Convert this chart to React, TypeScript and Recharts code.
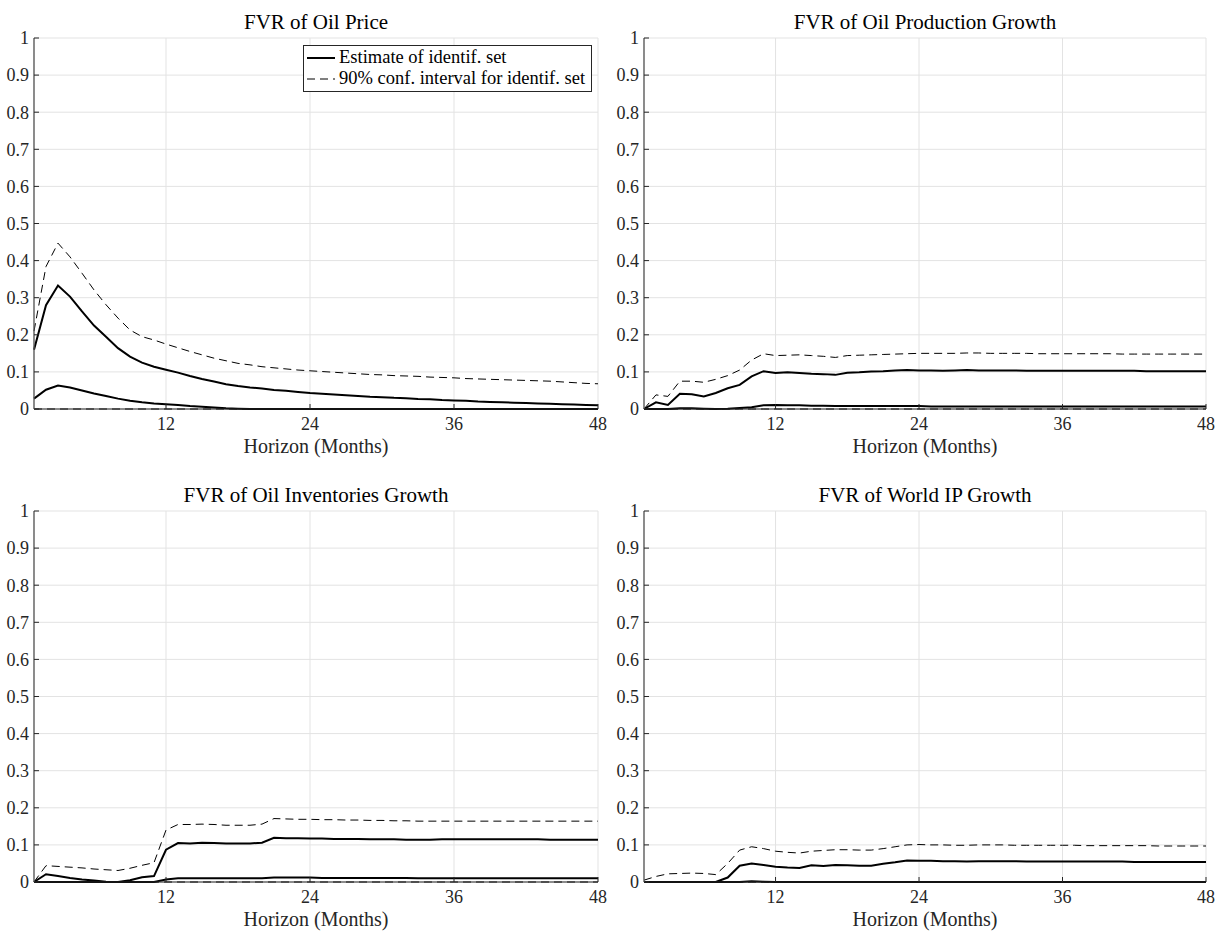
import React from "react";
import { LineChart, Line, XAxis, YAxis, CartesianGrid } from "recharts";

// forecast horizon, months
const horizons = [
  1, 2, 3, 4, 5, 6, 7, 8, 9, 10, 11, 12, 13, 14, 15, 16, 17, 18, 19, 20, 21, 22, 23, 24,
  25, 26, 27, 28, 29, 30, 31, 32, 33, 34, 35, 36, 37, 38, 39, 40, 41, 42, 43, 44, 45, 46, 47, 48,
];
const xTicks = [12, 24, 36, 48];
const yTicks = [0, 0.1, 0.2, 0.3, 0.4, 0.5, 0.6, 0.7, 0.8, 0.9, 1];

// FVR of Oil Price
const priceEstUpper = [
  0.160, 0.280, 0.333, 0.303, 0.263, 0.225, 0.195, 0.164, 0.141, 0.125, 0.114, 0.106,
  0.098, 0.089, 0.081, 0.074, 0.067, 0.062, 0.058, 0.055, 0.051, 0.049, 0.046, 0.043,
  0.041, 0.039, 0.037, 0.035, 0.033, 0.032, 0.030, 0.029, 0.027, 0.026, 0.024, 0.023,
  0.022, 0.020, 0.019, 0.018, 0.017, 0.016, 0.015, 0.014, 0.013, 0.012, 0.011, 0.010,
];
const priceEstLower = [
  0.028, 0.052, 0.063, 0.058, 0.050, 0.042, 0.035, 0.028, 0.022, 0.018, 0.015, 0.013,
  0.011, 0.008, 0.006, 0.004, 0.002, 0.001, 0, 0, 0, 0, 0, 0,
  0, 0, 0, 0, 0, 0, 0, 0, 0, 0, 0, 0,
  0, 0, 0, 0, 0, 0, 0, 0, 0, 0, 0, 0,
];
const priceCiUpper = [
  0.210, 0.384, 0.447, 0.410, 0.366, 0.321, 0.281, 0.245, 0.213, 0.195, 0.186, 0.175,
  0.165, 0.155, 0.146, 0.137, 0.130, 0.123, 0.119, 0.114, 0.111, 0.108, 0.105, 0.103,
  0.101, 0.099, 0.097, 0.095, 0.093, 0.092, 0.090, 0.089, 0.088, 0.086, 0.085, 0.084,
  0.082, 0.081, 0.080, 0.079, 0.078, 0.077, 0.076, 0.075, 0.073, 0.071, 0.069, 0.068,
];
const priceCiLower = [
  0, 0, 0, 0, 0, 0, 0, 0, 0, 0, 0, 0, 0, 0, 0, 0, 0, 0, 0, 0, 0, 0, 0, 0,
  0, 0, 0, 0, 0, 0, 0, 0, 0, 0, 0, 0, 0, 0, 0, 0, 0, 0, 0, 0, 0, 0, 0, 0,
];

// FVR of Oil Production Growth
const prodEstUpper = [
  0, 0.018, 0.011, 0.041, 0.040, 0.034, 0.043, 0.056, 0.065, 0.088, 0.102, 0.097,
  0.099, 0.097, 0.095, 0.094, 0.092, 0.098, 0.099, 0.101, 0.102, 0.104, 0.105, 0.104,
  0.104, 0.103, 0.104, 0.105, 0.104, 0.104, 0.104, 0.104, 0.103, 0.103, 0.103, 0.103,
  0.103, 0.103, 0.103, 0.103, 0.103, 0.103, 0.102, 0.102, 0.102, 0.102, 0.102, 0.102,
];
const prodEstLower = [
  0, 0, 0, 0.002, 0.002, 0.001, 0, 0.001, 0.003, 0.005, 0.010, 0.011,
  0.010, 0.010, 0.009, 0.009, 0.008, 0.008, 0.008, 0.008, 0.008, 0.008, 0.008, 0.008,
  0.007, 0.007, 0.007, 0.007, 0.007, 0.007, 0.007, 0.007, 0.007, 0.007, 0.007, 0.007,
  0.007, 0.007, 0.007, 0.007, 0.007, 0.007, 0.007, 0.007, 0.007, 0.007, 0.007, 0.007,
];
const prodCiUpper = [
  0, 0.038, 0.034, 0.075, 0.075, 0.072, 0.080, 0.090, 0.105, 0.132, 0.149, 0.144,
  0.145, 0.146, 0.144, 0.142, 0.139, 0.144, 0.145, 0.146, 0.147, 0.148, 0.149, 0.150,
  0.150, 0.150, 0.150, 0.151, 0.151, 0.150, 0.150, 0.150, 0.150, 0.149, 0.149, 0.149,
  0.149, 0.149, 0.149, 0.149, 0.148, 0.148, 0.148, 0.148, 0.148, 0.148, 0.148, 0.148,
];
const prodCiLower = [
  0, 0, 0, 0, 0, 0, 0, 0, 0, 0, 0, 0, 0, 0, 0, 0, 0, 0, 0, 0, 0, 0, 0, 0,
  0, 0, 0, 0, 0, 0, 0, 0, 0, 0, 0, 0, 0, 0, 0, 0, 0, 0, 0, 0, 0, 0, 0, 0,
];

// FVR of Oil Inventories Growth
const invEstUpper = [
  0, 0.021, 0.016, 0.011, 0.007, 0.004, 0.001, 0, 0.005, 0.013, 0.016, 0.087,
  0.105, 0.104, 0.106, 0.105, 0.104, 0.104, 0.104, 0.106, 0.119, 0.118, 0.118, 0.117,
  0.117, 0.116, 0.116, 0.116, 0.115, 0.115, 0.115, 0.114, 0.114, 0.114, 0.115, 0.115,
  0.115, 0.115, 0.115, 0.115, 0.115, 0.115, 0.115, 0.114, 0.114, 0.114, 0.114, 0.114,
];
const invEstLower = [
  0, 0, 0, 0, 0, 0, 0, 0, 0, 0, 0, 0.007,
  0.010, 0.010, 0.010, 0.010, 0.010, 0.010, 0.010, 0.010, 0.012, 0.012, 0.012, 0.012,
  0.011, 0.011, 0.011, 0.011, 0.011, 0.011, 0.011, 0.011, 0.010, 0.010, 0.010, 0.010,
  0.010, 0.010, 0.010, 0.010, 0.010, 0.010, 0.010, 0.010, 0.010, 0.010, 0.010, 0.010,
];
const invCiUpper = [
  0, 0.044, 0.042, 0.040, 0.038, 0.035, 0.033, 0.031, 0.037, 0.045, 0.052, 0.140,
  0.155, 0.155, 0.156, 0.155, 0.153, 0.153, 0.153, 0.156, 0.171, 0.170, 0.169, 0.169,
  0.168, 0.168, 0.167, 0.167, 0.166, 0.166, 0.165, 0.165, 0.164, 0.164, 0.164, 0.164,
  0.164, 0.164, 0.164, 0.164, 0.164, 0.164, 0.164, 0.164, 0.164, 0.164, 0.164, 0.164,
];
const invCiLower = [
  0, 0, 0, 0, 0, 0, 0, 0, 0, 0, 0, 0, 0, 0, 0, 0, 0, 0, 0, 0, 0, 0, 0, 0,
  0, 0, 0, 0, 0, 0, 0, 0, 0, 0, 0, 0, 0, 0, 0, 0, 0, 0, 0, 0, 0, 0, 0, 0,
];

// FVR of World IP Growth
const ipEstUpper = [
  0, 0, 0, 0, 0, 0, 0, 0.012, 0.044, 0.050, 0.046, 0.041,
  0.039, 0.038, 0.045, 0.043, 0.046, 0.045, 0.044, 0.044, 0.049, 0.053, 0.058, 0.057,
  0.057, 0.056, 0.056, 0.055, 0.056, 0.056, 0.056, 0.056, 0.055, 0.055, 0.055, 0.055,
  0.055, 0.055, 0.055, 0.055, 0.055, 0.054, 0.054, 0.054, 0.054, 0.054, 0.054, 0.054,
];
const ipEstLower = [
  0, 0, 0, 0, 0, 0, 0, 0, 0, 0.002, 0.001, 0,
  0, 0, 0, 0, 0, 0, 0, 0, 0, 0, 0, 0,
  0, 0, 0, 0, 0, 0, 0, 0, 0, 0, 0, 0,
  0, 0, 0, 0, 0, 0, 0, 0, 0, 0, 0, 0,
];
const ipCiUpper = [
  0.005, 0.015, 0.022, 0.023, 0.024, 0.023, 0.020, 0.050, 0.086, 0.095, 0.090, 0.083,
  0.080, 0.078, 0.083, 0.085, 0.087, 0.087, 0.086, 0.086, 0.090, 0.095, 0.100, 0.101,
  0.100, 0.100, 0.099, 0.099, 0.100, 0.100, 0.100, 0.099, 0.099, 0.099, 0.099, 0.099,
  0.099, 0.098, 0.098, 0.098, 0.098, 0.098, 0.098, 0.097, 0.097, 0.097, 0.097, 0.097,
];
const ipCiLower = [
  0, 0, 0, 0, 0, 0, 0, 0, 0, 0, 0, 0, 0, 0, 0, 0, 0, 0, 0, 0, 0, 0, 0, 0,
  0, 0, 0, 0, 0, 0, 0, 0, 0, 0, 0, 0, 0, 0, 0, 0, 0, 0, 0, 0, 0, 0, 0, 0,
];

const FONT = '"Liberation Serif", "Times New Roman", serif';
const INK = "#262626";
const PANEL_H = 460;
const TOP_M = 38;
const Y_W = 34;

interface PanelProps {
  title: string;
  left: number;
  top: number;
  width: number;
  estUpper: number[];
  estLower: number[];
  ciUpper: number[];
  ciLower: number[];
  legend?: boolean;
}

function LegendBox() {
  const row = (dashed: boolean, text: string) => (
    <div style={{ display: "flex", alignItems: "center", height: 21 }}>
      <svg width={34} height={10} style={{ flex: "none" }}>
        <line
          x1={3}
          x2={31}
          y1={5}
          y2={5}
          stroke="#000"
          strokeWidth={dashed ? 1 : 2}
          strokeDasharray={dashed ? "8 5" : undefined}
        />
      </svg>
      <span style={{ marginLeft: 1, whiteSpace: "nowrap" }}>{text}</span>
    </div>
  );
  return (
    <div
      style={{
        position: "absolute",
        left: 303,
        top: 45,
        width: 287,
        height: 44,
        border: `1px solid ${INK}`,
        background: "#fff",
        fontFamily: FONT,
        fontSize: 18.5,
        color: "#000",
        padding: "1px 0 0 0",
        boxSizing: "content-box",
      }}
    >
      {row(false, "Estimate of identif. set")}
      {row(true, "90% conf. interval for identif. set")}
    </div>
  );
}

function Panel({ title, left, top, width, estUpper, estLower, ciUpper, ciLower, legend }: PanelProps) {
  const data = horizons.map((h, i) => ({
    h,
    estUpper: estUpper[i],
    estLower: estLower[i],
    ciUpper: ciUpper[i],
    ciLower: ciLower[i],
  }));
  const plotW = width - Y_W - 10;
  return (
    <div style={{ position: "absolute", left, top, width, height: PANEL_H }}>
      <div
        style={{
          position: "absolute",
          left: Y_W,
          width: plotW,
          top: 10,
          lineHeight: "24px",
          textAlign: "center",
          fontFamily: FONT,
          fontSize: 21,
          color: "#000",
        }}
      >
        {title}
      </div>
      <LineChart width={width} height={PANEL_H} data={data} margin={{ top: TOP_M, right: 10, left: 0, bottom: 0 }}>
        <CartesianGrid stroke="#e3e3e3" strokeWidth={1} />
        <XAxis
          dataKey="h"
          type="number"
          domain={[1, 48]}
          ticks={xTicks}
          height={PANEL_H - TOP_M - 371}
          tickSize={-5}
          tickMargin={13}
          axisLine={{ stroke: INK, strokeWidth: 1 }}
          tickLine={{ stroke: INK }}
          tick={{ fill: INK, fontSize: 18, fontFamily: FONT }}
          label={{ value: "Horizon (Months)", position: "insideBottom", offset: 7, fill: INK, fontSize: 20, fontFamily: FONT }}
        />
        <YAxis
          type="number"
          domain={[0, 1]}
          ticks={yTicks}
          width={Y_W}
          tickSize={-5}
          tickMargin={10}
          interval={0}
          axisLine={{ stroke: "#555", strokeWidth: 1.3 }}
          tickLine={{ stroke: INK }}
          tick={{ fill: INK, fontSize: 18, fontFamily: FONT }}
          tickFormatter={(v: number) => String(v)}
        />
        <Line dataKey="ciLower" type="linear" stroke="#000" strokeWidth={1} strokeDasharray="8 5" dot={false} activeDot={false} isAnimationActive={false} />
        <Line dataKey="ciUpper" type="linear" stroke="#000" strokeWidth={1} strokeDasharray="8 5" dot={false} activeDot={false} isAnimationActive={false} />
        <Line dataKey="estLower" type="linear" stroke="#000" strokeWidth={2} dot={false} activeDot={false} isAnimationActive={false} />
        <Line dataKey="estUpper" type="linear" stroke="#000" strokeWidth={2} dot={false} activeDot={false} isAnimationActive={false} />
      </LineChart>
      {legend && <LegendBox />}
    </div>
  );
}

export default function App() {
  return (
    <div style={{ position: "absolute", left: 0, top: 0, width: 1217, height: 931, background: "#fff" }}>
      <Panel
        title="FVR of Oil Price"
        left={0}
        top={0}
        width={608}
        estUpper={priceEstUpper}
        estLower={priceEstLower}
        ciUpper={priceCiUpper}
        ciLower={priceCiLower}
        legend
      />
      <Panel
        title="FVR of Oil Production Growth"
        left={610}
        top={0}
        width={606}
        estUpper={prodEstUpper}
        estLower={prodEstLower}
        ciUpper={prodCiUpper}
        ciLower={prodCiLower}
      />
      <Panel
        title="FVR of Oil Inventories Growth"
        left={0}
        top={473}
        width={608}
        estUpper={invEstUpper}
        estLower={invEstLower}
        ciUpper={invCiUpper}
        ciLower={invCiLower}
      />
      <Panel
        title="FVR of World IP Growth"
        left={610}
        top={473}
        width={606}
        estUpper={ipEstUpper}
        estLower={ipEstLower}
        ciUpper={ipCiUpper}
        ciLower={ipCiLower}
      />
    </div>
  );
}
